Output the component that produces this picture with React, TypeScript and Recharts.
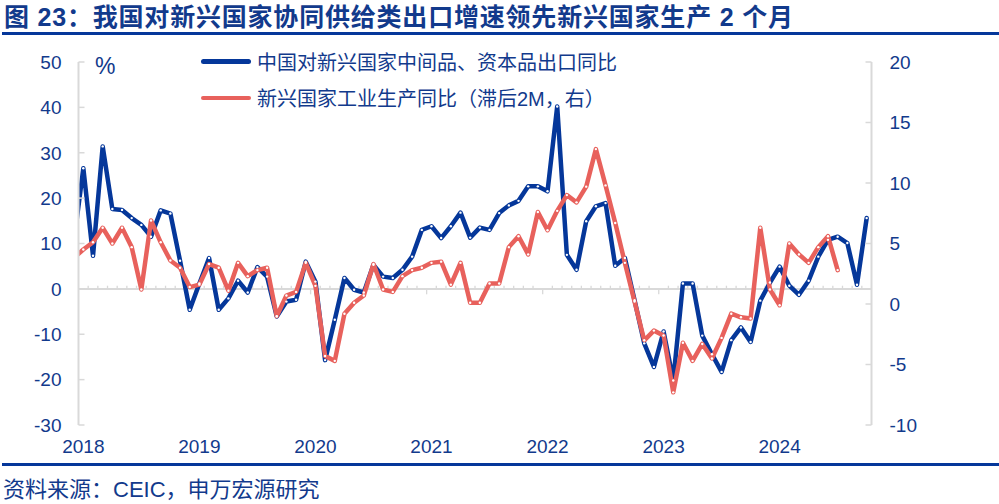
import React from "react";
import { LineChart, Line, XAxis, YAxis, ReferenceLine, Legend } from "recharts";

// monthly, Dec 2017 .. Oct 2024 (Dec 2017 sits left of the axis and is clipped)
const EXPORT_YOY = [
  10, 26.6, 7.3, 31.4, 17.6, 17.4, 15.6, 14.1, 11.5, 17.3, 16.6, 6.2, -4.6,
  1.2, 6.8, -4.6, -2.1, 1.8, -0.8, 4.8, 2.7, -6.1, -2.8, -2.4, 6.0,
  1.6, -15.7, -6.8, 2.4, -0.2, -0.8, 5.3, 2.7, 2.4, 4.2, 7.1, 13.0,
  13.8, 11.2, 13.8, 16.8, 11.3, 13.5, 13.0, 16.7, 18.4, 19.4, 22.6, 22.6,
  21.5, 40.2, 7.5, 4.2, 14.9, 18.2, 18.9, 5.1, 6.8, -2.5, -12.0, -17.2,
  -9.4, -20.2, 1.2, 1.2, -10.3, -14.4, -18.3, -11.3, -8.5, -11.7, -2.6, 1.4,
  4.9, 0.7, -1.3, 1.8, 7.1, 10.8, 11.5, 10.1, 0.9, 15.6,
];

// monthly, Dec 2017 .. Jul 2024, right axis
const OUTPUT_YOY = [
  3.8, 4.5, 5.1, 6.3, 5.0, 6.3, 4.7, 1.2, 6.9, 5.1, 3.6, 3.0, 1.4,
  1.6, 3.3, 3.0, 1.1, 3.4, 2.3, 2.8, 3.0, -1.0, 0.7, 1.0, 3.4,
  1.5, -4.3, -4.7, -0.8, 0.1, 0.7, 3.3, 1.2, 1.0, 2.3, 2.8, 3.0,
  3.4, 3.5, 1.6, 3.4, 0.1, 0.1, 1.7, 1.7, 4.7, 5.6, 4.1, 7.6,
  6.1, 7.7, 9.0, 8.4, 9.7, 12.8, 9.8, 6.7, 3.4, 0.2, -3.0, -2.2,
  -2.6, -7.3, -3.2, -4.7, -3.3, -4.5, -2.8, -0.8, -1.1, -1.2, 6.3, 1.2,
  -0.1, 5.0, 4.1, 3.4, 4.7, 5.6, 2.8,
];

const YEARS = ["2018", "2019", "2020", "2021", "2022", "2023", "2024"];
const LEFT_TICKS = [-30, -20, -10, 0, 10, 20, 30, 40, 50];
const RIGHT_TICKS = [-10, -5, 0, 5, 10, 15, 20];
const SERIES_NAMES = [
  "中国对新兴国家中间品、资本品出口同比",
  "新兴国家工业生产同比（滞后2M，右）",
];

const BLUE = "#05379a";
const RED = "#e8615c";
const TEXT = "#123a8c";
const GRID = "#d9d9d9";
const FONT = '"Liberation Sans", Arial, "Noto Sans CJK SC", sans-serif';
const MONTH_COUNT = 82; // Jan 2018 .. Oct 2024

const data = EXPORT_YOY.map((v, k) => ({
  i: k - 1,
  exp: v,
  out: k < OUTPUT_YOY.length ? OUTPUT_YOY[k] : null,
}));

const yearTicks = YEARS.map((_, n) => n * 12);
const monthEdges = Array.from({ length: MONTH_COUNT - 1 }, (_, n) => n + 0.5);

const LeftTick = ({ x, y, payload }: any) => (
  <g>
    <line x1={x} x2={x + 6} y1={y} y2={y} stroke={GRID} strokeWidth={1.5} />
    <text x={x - 17} y={y} dy="0.36em" textAnchor="end" fill={TEXT} fontSize={19}>
      {payload.value}
    </text>
  </g>
);

const RightTick = ({ x, y, payload }: any) => (
  <g>
    <line x1={x - 6} x2={x} y1={y} y2={y} stroke={GRID} strokeWidth={1.5} />
    <text x={x + 18} y={y} dy="0.36em" textAnchor="start" fill={TEXT} fontSize={19}>
      {payload.value}
    </text>
  </g>
);

const renderLegend = () => (
  <div style={{ fontFamily: FONT }}>
    {SERIES_NAMES.map((name, n) => (
      <div key={name} style={{ display: "flex", alignItems: "center", height: 36.5 }}>
        <span
          style={{
            display: "inline-block",
            width: 50,
            height: 4.5,
            borderRadius: 2.5,
            background: n === 0 ? BLUE : RED,
          }}
        />
        <span style={{ marginLeft: 6, fontSize: 20, color: TEXT, whiteSpace: "nowrap" }}>
          {name}
        </span>
      </div>
    ))}
  </div>
);

export default function App() {
  return (
    <div
      style={{
        position: "fixed",
        left: 0,
        top: 0,
        width: 999,
        height: 504,
        background: "#fff",
        fontFamily: FONT,
        overflow: "hidden",
      }}
    >
      <div
        style={{
          position: "absolute",
          left: 4,
          top: 0,
          height: 34,
          lineHeight: "34px",
          fontSize: 25,
          fontWeight: 700,
          letterSpacing: 0.8,
          color: TEXT,
          whiteSpace: "nowrap",
        }}
      >
        图 23：我国对新兴国家协同供给类出口增速领先新兴国家生产 2 个月
      </div>
      <div style={{ position: "absolute", left: 2, right: 0, top: 32, height: 2.5, background: BLUE }} />

      <LineChart
        width={999}
        height={504}
        data={data}
        margin={{ top: 62, right: 67.5, bottom: 49, left: 18.5 }}
      >
        <XAxis
          dataKey="i"
          type="number"
          domain={[-0.5, MONTH_COUNT - 0.5]}
          allowDataOverflow
          ticks={yearTicks}
          tickFormatter={(v: number) => YEARS[v / 12]}
          axisLine={false}
          tickLine={false}
          tickSize={0}
          tickMargin={15}
          height={30}
          tick={{ fill: TEXT, fontSize: 19 }}
        />
        <YAxis
          yAxisId="l"
          domain={[-30, 50]}
          ticks={LEFT_TICKS}
          width={60}
          tickSize={0}
          tickMargin={0}
          axisLine={{ stroke: GRID, strokeWidth: 2 }}
          tickLine={false}
          tick={<LeftTick />}
          interval={0}
        />
        <YAxis
          yAxisId="r"
          orientation="right"
          domain={[-10, 20]}
          ticks={RIGHT_TICKS}
          width={60}
          tickSize={0}
          tickMargin={0}
          axisLine={{ stroke: GRID, strokeWidth: 2 }}
          tickLine={false}
          tick={<RightTick />}
          interval={0}
        />
        <ReferenceLine yAxisId="l" y={0} stroke={GRID} strokeWidth={2} />
        {monthEdges.map((e) => {
          const major = (e + 0.5) % 12 === 0;
          return (
            <ReferenceLine
              key={e}
              yAxisId="l"
              segment={[
                { x: e, y: 0 },
                { x: e, y: major ? -1.2 : 0.7 },
              ]}
              stroke={GRID}
              strokeWidth={1.3}
            />
          );
        })}
        <Legend
          layout="vertical"
          align="center"
          verticalAlign="middle"
          content={renderLegend}
          wrapperStyle={{ position: "absolute", left: 201, top: 43, width: "auto" }}
        />
        <Line
          yAxisId="l"
          dataKey="exp"
          stroke={BLUE}
          strokeWidth={4.5}
          strokeLinejoin="round"
          strokeLinecap="round"
          dot={{ r: 1.2, fill: "#fff", stroke: "none" }}
          activeDot={false}
          isAnimationActive={false}
        />
        <Line
          yAxisId="r"
          dataKey="out"
          stroke={RED}
          strokeWidth={4.5}
          strokeLinejoin="round"
          strokeLinecap="round"
          dot={{ r: 1.2, fill: "#fff", stroke: "none" }}
          activeDot={false}
          connectNulls={false}
          isAnimationActive={false}
        />
      </LineChart>

      <div
        style={{
          position: "absolute",
          left: 95,
          top: 52,
          lineHeight: "28px",
          fontSize: 23,
          color: TEXT,
        }}
      >
        %
      </div>

      <div style={{ position: "absolute", left: 2, right: 0, top: 463, height: 3, background: BLUE }} />
      <div
        style={{
          position: "absolute",
          left: 3,
          top: 476,
          lineHeight: "28px",
          fontSize: 22,
          color: TEXT,
          whiteSpace: "nowrap",
        }}
      >
        资料来源：CEIC，申万宏源研究
      </div>
    </div>
  );
}
